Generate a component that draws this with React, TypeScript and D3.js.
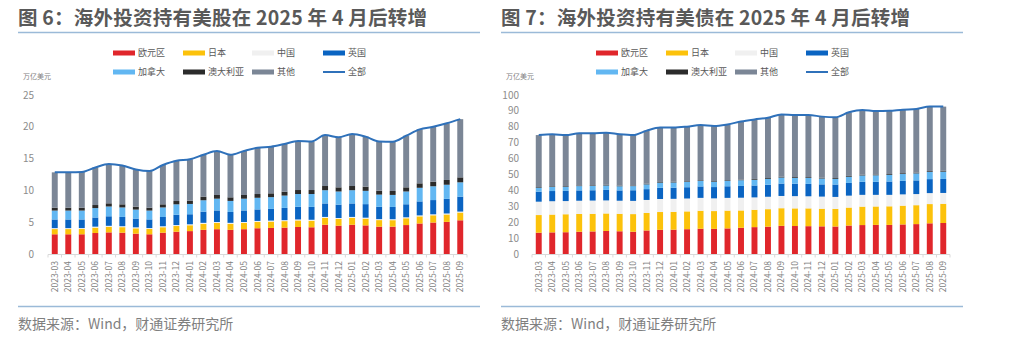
import React from 'react';
import * as d3 from 'd3';

const months = [
  '2023-03','2023-04','2023-05','2023-06','2023-07','2023-08','2023-09','2023-10','2023-11','2023-12',
  '2024-01','2024-02','2024-03','2024-04','2024-05','2024-06','2024-07','2024-08','2024-09','2024-10','2024-11','2024-12',
  '2025-01','2025-02','2025-03','2025-04','2025-05','2025-06','2025-07','2025-08','2025-09'
];

const seriesNames = ['欧元区', '日本', '中国', '英国', '加拿大', '澳大利亚', '其他'];
const totalName = '全部';

// Figure 6: stocks (万亿美元)
const stockEuro = [3.1,3.1,3.1,3.3,3.4,3.35,3.2,3.1,3.35,3.5,3.6,3.8,3.9,3.8,3.9,4.05,4.1,4.15,4.25,4.2,4.6,4.45,4.6,4.5,4.3,4.3,4.55,4.8,4.95,5.05,5.3];
const stockJapan = [0.82,0.82,0.83,0.85,0.88,0.87,0.84,0.83,0.86,0.9,0.92,0.95,0.98,0.95,0.98,1.0,1.0,1.02,1.03,1.03,1.08,1.06,1.08,1.06,1.03,1.02,1.07,1.12,1.14,1.17,1.22];
const stockChina = [0.15,0.15,0.15,0.15,0.15,0.15,0.15,0.15,0.15,0.15,0.15,0.15,0.15,0.15,0.15,0.15,0.15,0.15,0.15,0.15,0.15,0.15,0.15,0.15,0.15,0.15,0.15,0.15,0.15,0.15,0.15];
const stockUK = [1.36,1.36,1.35,1.44,1.5,1.46,1.38,1.36,1.46,1.62,1.58,1.76,1.82,1.71,1.82,1.81,1.84,1.93,2.0,2.03,2.12,2.1,2.12,2.13,1.95,1.93,2.05,2.2,2.24,2.3,2.35];
const stockCanada = [1.4,1.4,1.4,1.48,1.54,1.49,1.41,1.39,1.5,1.64,1.62,1.79,1.85,1.74,1.85,1.83,1.85,1.94,2.0,2.02,2.08,2.07,2.08,2.09,1.91,1.89,2.01,2.14,2.17,2.22,2.25];
const stockAustralia = [0.45,0.45,0.45,0.48,0.5,0.49,0.46,0.45,0.49,0.52,0.52,0.56,0.58,0.56,0.58,0.59,0.6,0.61,0.63,0.63,0.66,0.65,0.66,0.66,0.62,0.62,0.65,0.7,0.72,0.75,0.78];
const stockOther = [5.56,5.57,5.62,5.9,6.18,6.09,5.86,5.77,6.19,6.34,6.51,6.59,6.92,6.69,6.92,7.27,7.33,7.5,7.71,7.64,8.01,7.87,8.18,7.86,7.74,7.74,8.12,8.49,8.63,8.91,9.15];
const stockTotal = [12.84,12.85,12.9,13.6,14.15,13.9,13.3,13.05,14.0,14.67,14.9,15.6,16.2,15.6,16.2,16.7,16.87,17.3,17.77,17.7,18.7,18.35,18.87,18.45,17.7,17.65,18.6,19.6,20.0,20.55,21.2];
const stockTicks = [0, 5, 10, 15, 20, 25];

// Figure 7: bonds (万亿美元)
const bondEuro = [13.4,13.6,13.7,14.0,14.2,14.5,14.3,14.0,14.8,15.2,15.3,15.6,15.9,15.8,16.1,16.5,16.9,17.2,17.7,17.6,17.5,17.4,17.3,17.9,18.2,18.3,18.3,18.6,18.8,19.3,19.5];
const bondJapan = [11.1,11.2,11.3,11.2,11.1,11.0,11.0,11.1,11.0,11.2,11.2,11.2,11.3,11.2,11.2,10.9,10.9,11.0,11.1,11.1,11.2,11.1,11.1,11.3,11.6,11.6,11.7,11.8,11.9,12.1,12.1];
const bondChina = [8.4,8.4,8.3,8.3,8.3,8.2,8.2,8.3,8.2,8.2,8.2,8.1,8.1,8.0,8.0,8.0,7.8,7.8,7.7,7.7,7.6,7.6,7.5,7.5,7.4,7.3,7.2,7.1,7.0,6.9,6.8];
const bondUK = [6.3,6.4,6.4,6.5,6.5,6.6,6.5,6.7,6.8,7.0,7.0,7.1,7.2,7.1,7.3,7.4,7.5,7.6,7.8,7.8,7.8,7.7,7.8,8.0,8.2,8.2,8.4,8.5,8.6,8.8,8.8];
const bondCanada = [2.5,2.6,2.6,2.7,2.7,2.8,2.6,2.6,3.0,3.3,3.3,3.4,3.5,3.4,3.5,3.6,3.6,3.7,3.8,3.7,3.7,3.7,3.6,3.9,4.0,4.1,4.2,4.3,4.4,4.5,4.6];
const bondAustralia = [0.4,0.4,0.4,0.4,0.4,0.4,0.4,0.4,0.4,0.4,0.4,0.4,0.4,0.4,0.4,0.4,0.5,0.5,0.5,0.5,0.5,0.5,0.5,0.5,0.5,0.5,0.5,0.5,0.5,0.5,0.5];
const bondOther = [32.7,32.7,32.1,32.8,32.7,32.8,32.3,31.7,33.4,34.2,34.1,34.3,34.7,34.6,35.0,36.5,37.4,37.9,39.2,39.0,39.1,38.4,38.2,40.0,40.7,39.9,39.8,40.0,40.0,40.6,40.4];
const bondTotal = [74.8,75.3,74.8,75.9,75.9,76.3,75.3,74.8,77.6,79.5,79.5,80.1,81.1,80.5,81.5,83.3,84.6,85.7,87.8,87.4,87.4,86.4,86.0,89.1,90.6,89.9,90.1,90.8,91.2,92.7,92.7];
const bondTicks = [0,10,20,30,40,50,60,70,80,90,100];

const colors = ['#e0262b', '#fcc20b', '#f0f0f0', '#0a64c2', '#62b7f2', '#2b2b2b', '#7b8696'];
const lineColor = '#2f71ba';
const textGray = '#7f7f7f';
const titleGray = '#595959';
const ruleColor = '#9bbad8';
const FONT = '"Noto Sans CJK SC", "Noto Sans", sans-serif';

type PanelProps = {
  ox: number;
  title: string;
  values: number[][];
  total: number[];
  yMax: number;
  ticks: number[];
  axisLeft: number;
  axisRight: number;
  labelRight: number;
};

function Panel({ ox, title, values, total, yMax, ticks, axisLeft, axisRight, labelRight }: PanelProps) {
  const x = d3.scaleBand<string>().domain(months).range([axisLeft, axisRight]).paddingInner(0.56).paddingOuter(0.28);
  const y = d3.scaleLinear().domain([0, yMax]).range([254, 95]);
  const table = months.map((m, i) => {
    const row: Record<string, any> = { month: m };
    seriesNames.forEach((s, j) => (row[s] = values[j][i]));
    return row;
  });
  const stacked = d3.stack<Record<string, any>>().keys(seriesNames)(table);
  const line = d3
    .line<number>()
    .x((_, i) => (x(months[i]) as number) + x.bandwidth() / 2)
    .y((d) => y(d))
    .curve(d3.curveMonotoneX);

  const legendX = [ox + 113, ox + 183, ox + 252, ox + 323];
  const legendRows = [
    [0, 1, 2, 3],
    [4, 5, 6, -1],
  ];
  const step = x.step();

  return (
    <g>
      <text
        x={ox + 18}
        y={25}
        fontFamily={FONT}
        fontWeight={700}
        fontSize={19.5}
        fill={titleGray}
        textLength={409}
        lengthAdjust="spacing"
      >
        {title}
      </text>
      <line x1={ox + 18} x2={ox + 480} y1={32.5} y2={32.5} stroke={ruleColor} strokeWidth={1.5} />
      {legendRows.map((row, r) =>
        row.map((si, c) => {
          const lx = legendX[c];
          const ly = r === 0 ? 53 : 72;
          const label = si >= 0 ? seriesNames[si] : totalName;
          return (
            <g key={`${r}-${c}`}>
              {si >= 0 ? (
                <rect x={lx} y={ly - 2.5} width={22} height={5} fill={colors[si]} />
              ) : (
                <line x1={lx} x2={lx + 22} y1={ly} y2={ly} stroke={lineColor} strokeWidth={2} />
              )}
              <text x={lx + 25} y={ly + 3.2} fontFamily={FONT} fontSize={9} fill={titleGray}>
                {label}
              </text>
            </g>
          );
        })
      )}
      <text x={ox + 23} y={79} fontFamily={FONT} fontSize={7} fill={textGray}>
        万亿美元
      </text>
      {ticks.map((t) => (
        <text key={t} x={labelRight} y={y(t)} dy="0.35em" textAnchor="end" fontFamily={FONT} fontSize={10} fill="#8c8c8c">
          {t}
        </text>
      ))}
      {stacked.map((layer, j) => (
        <g key={layer.key} fill={colors[j]}>
          {layer.map((d, i) => (
            <rect
              key={i}
              x={x(months[i])}
              y={y(d[1])}
              width={x.bandwidth()}
              height={Math.max(0, y(d[0]) - y(d[1]))}
            />
          ))}
        </g>
      ))}
      <line x1={axisLeft} x2={axisRight} y1={254.5} y2={254.5} stroke="#d9d9d9" strokeWidth={1} />
      {months.map((m, i) => (
        <line key={m} x1={axisLeft + i * step} x2={axisLeft + i * step} y1={254.5} y2={257.5} stroke="#d9d9d9" />
      ))}
      <line x1={axisRight} x2={axisRight} y1={254.5} y2={257.5} stroke="#d9d9d9" />
      <path d={line(total) || ''} fill="none" stroke={lineColor} strokeWidth={2} />
      {months.map((m) => {
        const cx = (x(m) as number) + x.bandwidth() / 2;
        return (
          <text
            key={m}
            transform={`translate(${cx + 3},${261}) rotate(-90)`}
            textAnchor="end"
            fontFamily={FONT}
            fontSize={8.5}
            fill={textGray}
          >
            {m}
          </text>
        );
      })}
      <line x1={ox + 18} x2={ox + 480} y1={306.5} y2={306.5} stroke={ruleColor} strokeWidth={1.5} />
      <text x={ox + 18} y={329} fontFamily={FONT} fontSize={14} fill={textGray}>
        数据来源：Wind，财通证券研究所
      </text>
    </g>
  );
}

export default function App() {
  const stockValues = [stockEuro, stockJapan, stockChina, stockUK, stockCanada, stockAustralia, stockOther];
  const bondValues = [bondEuro, bondJapan, bondChina, bondUK, bondCanada, bondAustralia, bondOther];
  return (
    <svg
      width={1024}
      height={346}
      viewBox="0 0 1024 346"
      style={{ position: 'absolute', left: 0, top: 0, background: '#fff' }}
    >
      <rect width={1024} height={346} fill="#fff" />
      <Panel
        ox={0}
        title="图 6：海外投资持有美股在 2025 年 4 月后转增"
        values={stockValues}
        total={stockTotal}
        yMax={25}
        ticks={stockTicks}
        axisLeft={48}
        axisRight={467}
        labelRight={34}
      />
      <Panel
        ox={483}
        title="图 7：海外投资持有美债在 2025 年 4 月后转增"
        values={bondValues}
        total={bondTotal}
        yMax={100}
        ticks={bondTicks}
        axisLeft={532}
        axisRight={950}
        labelRight={519}
      />
    </svg>
  );
}
